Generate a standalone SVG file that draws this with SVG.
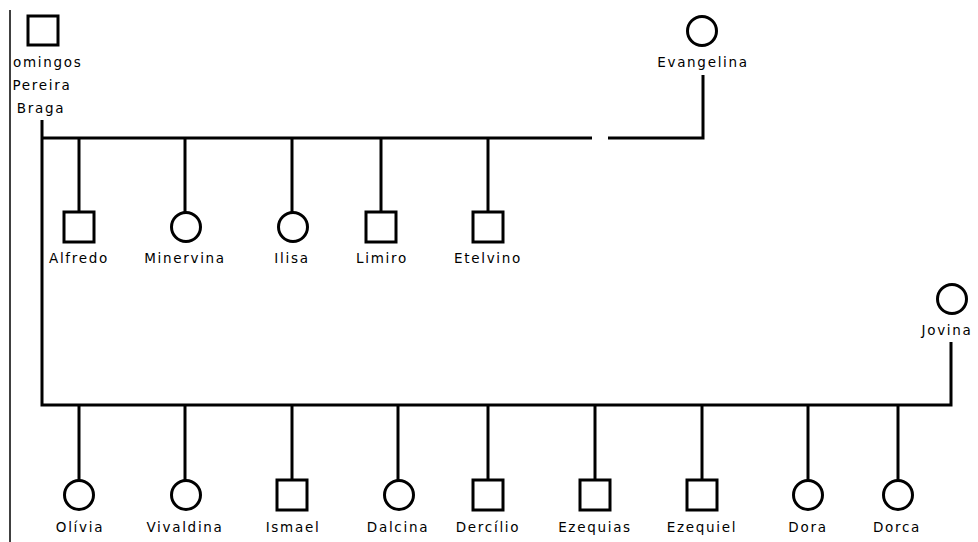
<svg xmlns="http://www.w3.org/2000/svg" width="978" height="542" viewBox="0 0 978 542">
<style>
.n{fill:none;stroke:#000;stroke-width:3}
.c{fill:none;stroke:#000;stroke-width:3}
text{font-family:"DejaVu Sans","Liberation Sans",sans-serif;font-size:13.5px;letter-spacing:1.7px;fill:#000;text-anchor:middle}
</style>
<rect width="978" height="542" fill="#fff"/>
<line x1="10" y1="10" x2="10" y2="542" stroke="#000" stroke-width="1.5"/>
<g id="connectors" class="c">
<polyline points="42,120 42,405 951,405 951,342"/>
<line x1="42" y1="138" x2="592" y2="138"/>
<polyline points="608,138 703,138 703,75"/>
<line x1="79" y1="138" x2="79" y2="212"/>
<line x1="185" y1="138" x2="185" y2="212"/>
<line x1="292" y1="138" x2="292" y2="212"/>
<line x1="381" y1="138" x2="381" y2="212"/>
<line x1="488" y1="138" x2="488" y2="212"/>
<line x1="79" y1="405" x2="79" y2="480"/>
<line x1="185" y1="405" x2="185" y2="480"/>
<line x1="292" y1="405" x2="292" y2="480"/>
<line x1="398" y1="405" x2="398" y2="480"/>
<line x1="488" y1="405" x2="488" y2="480"/>
<line x1="595" y1="405" x2="595" y2="480"/>
<line x1="702" y1="405" x2="702" y2="480"/>
<line x1="808" y1="405" x2="808" y2="480"/>
<line x1="898" y1="405" x2="898" y2="480"/>
</g>
<g id="domingos"><rect class="n" x="28" y="16" width="30" height="29"/>
<text x="13" y="67" style="text-anchor:start">omingos</text><text x="42" y="90">Pereira</text><text x="41" y="113">Braga</text></g>
<g id="evangelina"><circle class="n" cx="702" cy="31" r="14.5"/><text x="703" y="67">Evangelina</text></g>
<g id="jovina"><circle class="n" cx="952" cy="299" r="14.5"/><text x="947" y="335">Jovina</text></g>
<g id="alfredo"><rect class="n" x="64" y="212" width="30" height="30"/><text x="79" y="263">Alfredo</text></g>
<g id="minervina"><circle class="n" cx="186" cy="227" r="14.5"/><text x="185" y="263">Minervina</text></g>
<g id="ilisa"><circle class="n" cx="293" cy="227" r="14.5"/><text x="292" y="263">Ilisa</text></g>
<g id="limiro"><rect class="n" x="366" y="212" width="30" height="30"/><text x="382" y="263">Limiro</text></g>
<g id="etelvino"><rect class="n" x="473" y="212" width="30" height="30"/><text x="488" y="263">Etelvino</text></g>
<g id="olivia"><circle class="n" cx="79" cy="495" r="14.5"/><text x="80" y="532">Olívia</text></g>
<g id="vivaldina"><circle class="n" cx="186" cy="495" r="14.5"/><text x="185" y="532">Vivaldina</text></g>
<g id="ismael"><rect class="n" x="277" y="480" width="30" height="30"/><text x="293" y="532">Ismael</text></g>
<g id="dalcina"><circle class="n" cx="399" cy="495" r="14.5"/><text x="398" y="532">Dalcina</text></g>
<g id="dercilio"><rect class="n" x="473" y="480" width="30" height="30"/><text x="488" y="532">Dercílio</text></g>
<g id="ezequias"><rect class="n" x="580" y="480" width="30" height="30"/><text x="595" y="532">Ezequias</text></g>
<g id="ezequiel"><rect class="n" x="687" y="480" width="30" height="30"/><text x="702" y="532">Ezequiel</text></g>
<g id="dora"><circle class="n" cx="808" cy="495" r="14.5"/><text x="808" y="532">Dora</text></g>
<g id="dorca"><circle class="n" cx="898" cy="495" r="14.5"/><text x="897" y="532">Dorca</text></g>
</svg>
